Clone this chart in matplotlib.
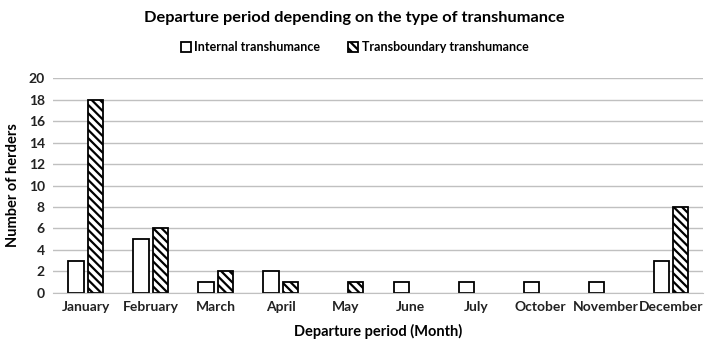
import numpy as np
import matplotlib.pyplot as plt
from matplotlib.patches import Patch

plt.rcParams['font.family'] = ['Lato', 'DejaVu Sans']
plt.rcParams['hatch.linewidth'] = 1.6

# Data
months = ['January', 'February', 'March', 'April', 'May', 'June',
          'July', 'October', 'November', 'December']
internal = [3, 5, 1, 2, 0, 1, 1, 1, 1, 3]
transboundary = [18, 6, 2, 1, 1, 0, 0, 0, 0, 8]

fig = plt.figure(figsize=(7.09, 3.52), dpi=100)
ax = fig.add_axes([0.075, 0.168, 0.917, 0.61])

x = np.arange(len(months))
w = 0.235
gap = 0.03
b1 = ax.bar(x - w / 2 - gap, internal, w, facecolor='white', edgecolor='black', linewidth=1.3)
b2 = ax.bar(x + w / 2 + gap, transboundary, w, facecolor='white', edgecolor='black',
            linewidth=1.3, hatch='\\\\\\\\')
# zero-height bars are not drawn in the original
for bars, vals in [(b1, internal), (b2, transboundary)]:
    for r, v in zip(bars, vals):
        if v == 0:
            r.set_visible(False)

ax.set_xlim(-0.5, len(months) - 0.5)
ax.set_ylim(0, 20)
ax.set_yticks(range(0, 21, 2))
ax.set_xticks(x)
ax.set_xticklabels(months)
ax.yaxis.grid(True, color='#c0c0c0', linewidth=1)
ax.set_axisbelow(True)
for s in ['top', 'right', 'left']:
    ax.spines[s].set_visible(False)
ax.spines['bottom'].set_color('#c0c0c0')
ax.tick_params(length=0, labelsize=10, pad=6)
for lab in ax.get_xticklabels() + ax.get_yticklabels():
    lab.set_fontweight('bold')
    lab.set_color('#222222')

ax.set_xlabel('Departure period (Month)', fontsize=10.5, fontweight='bold', labelpad=8)
ax.set_ylabel('Number of herders', fontsize=10.5, fontweight='bold', labelpad=6)

fig.text(0.5, 0.95, 'Departure period depending on the type of transhumance',
         ha='center', va='center', fontsize=11.8, fontweight='bold')

handles = [Patch(facecolor='white', edgecolor='black', linewidth=1.3),
           Patch(facecolor='white', edgecolor='black', linewidth=1.3, hatch='\\\\\\\\')]
leg = fig.legend(handles, ['Internal transhumance', 'Transboundary transhumance'],
                 loc='center', bbox_to_anchor=(0.5, 0.866), ncol=2, frameon=False,
                 fontsize=9, handlelength=0.8, handleheight=0.8, handletextpad=0.3,
                 columnspacing=2.2)
for t in leg.get_texts():
    t.set_fontweight('bold')

fig.savefig('out.png', dpi=100, facecolor='white')
